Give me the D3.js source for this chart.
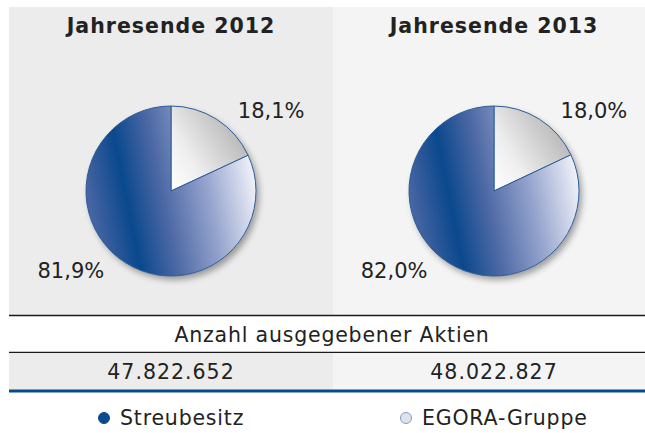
<!DOCTYPE html>
<html>
<head>
<meta charset="utf-8">
<script src="https://cdn.jsdelivr.net/npm/d3@7"></script>
<style>
  body { margin: 0; background: #fff; }
  text { font-family: "DejaVu Sans", Verdana, sans-serif; fill: #222; }
</style>
</head>
<body>
<svg id="chart" width="645" height="433"></svg>
<script>
// data
const years = ['Jahresende 2012', 'Jahresende 2013']
const streubesitz = [81.9, 82.0]
const egora = [18.1, 18.0]
const shareCounts = ['47.822.652', '48.022.827']
const legendLabels = ['Streubesitz', 'EGORA-Gruppe']
const tableTitle = 'Anzahl ausgegebener Aktien'

const width = 645
const left = 9, split = 333
const radius = 85

const svg = d3.select('#chart')
const defs = svg.append('defs')

// gradients for the slices
const blueGrad = defs.append('linearGradient')
    .attr('id', 'blueGrad')
    .attr('x1', 0).attr('y1', 0.6)
    .attr('x2', 1).attr('y2', 0.4)
blueGrad.selectAll('stop')
    .data([[0, '#4d68a5'], [0.24, '#0a488d'], [0.45, '#4d69a5'], [0.7, '#93a2cc'], [1, '#f3f4fb']])
    .join('stop')
    .attr('offset', d => d[0])
    .attr('stop-color', d => d[1])

const greyGrad = defs.append('linearGradient')
    .attr('id', 'greyGrad')
    .attr('x1', 0).attr('y1', 1)
    .attr('x2', 1).attr('y2', 0.3)
greyGrad.selectAll('stop')
    .data([[0, '#ffffff'], [0.35, '#eeeeee'], [1, '#b0b0b0']])
    .join('stop')
    .attr('offset', d => d[0])
    .attr('stop-color', d => d[1])

const shadow = defs.append('filter')
    .attr('id', 'shadow')
    .attr('x', '-20%').attr('y', '-20%')
    .attr('width', '150%').attr('height', '150%')
shadow.append('feDropShadow')
    .attr('dx', 3).attr('dy', 4)
    .attr('stdDeviation', 3)
    .attr('flood-color', '#000')
    .attr('flood-opacity', 0.35)

// the two year columns
const colLeft = [left, split]
const colRight = [split, width]
const colCenter = [171, 494]
const colFill = ['#ebeceb', '#f4f4f4']

// panel backgrounds
svg.selectAll('.panel')
    .data(years)
    .join('rect')
    .attr('class', 'panel')
    .attr('x', (d, i) => colLeft[i])
    .attr('y', 7)
    .attr('width', (d, i) => colRight[i] - colLeft[i])
    .attr('height', 308)
    .attr('fill', (d, i) => colFill[i])

// titles
svg.selectAll('.title')
    .data(years)
    .join('text')
    .attr('class', 'title')
    .attr('x', (d, i) => colCenter[i])
    .attr('y', 33)
    .attr('text-anchor', 'middle')
    .style('font-weight', 'bold')
    .style('font-size', '20.5px')
    .style('letter-spacing', '1px')
    .text(d => d)

const pie = d3.pie().sort(null).value(d => d.value)
const arc = d3.arc().innerRadius(0).outerRadius(radius)
const labelR = 128
const labelShift = 0.33 // labels sit a bit clockwise of the slice middle

years.forEach((year, i) => {
    const slices = [
        {key: 'EGORA-Gruppe', value: egora[i]},
        {key: 'Streubesitz', value: streubesitz[i]}
    ]
    const g = svg.append('g')
        .attr('transform', `translate(${colCenter[i]}, 191)`)

    g.append('circle')
        .attr('r', radius)
        .attr('fill', '#ddd')
        .attr('filter', 'url(#shadow)')

    g.selectAll('path')
        .data(pie(slices))
        .join('path')
        .attr('d', arc)
        .attr('fill', d => d.data.key === 'Streubesitz' ? 'url(#blueGrad)' : 'url(#greyGrad)')
        .attr('stroke', '#2d5c98')
        .attr('stroke-width', 1)

    g.selectAll('.pct')
        .data(pie(slices))
        .join('text')
        .attr('class', 'pct')
        .attr('x', d => labelR * Math.sin((d.startAngle + d.endAngle) / 2 + labelShift))
        .attr('y', d => -labelR * Math.cos((d.startAngle + d.endAngle) / 2 + labelShift) + 7)
        .attr('text-anchor', 'middle')
        .style('font-size', '21px')
        .text(d => d3.format('.1f')(d.data.value).replace('.', ',') + '%')
})

// table part under the pies
svg.append('line')
    .attr('x1', left).attr('x2', width)
    .attr('y1', 315.5).attr('y2', 315.5)
    .attr('stroke', '#1a1a1a').attr('stroke-width', 1.5)

svg.append('text')
    .attr('x', 332)
    .attr('y', 342)
    .attr('text-anchor', 'middle')
    .style('font-size', '20.5px')
    .style('letter-spacing', '0.8px')
    .text(tableTitle)

svg.append('line')
    .attr('x1', left).attr('x2', width)
    .attr('y1', 352.5).attr('y2', 352.5)
    .attr('stroke', '#1a1a1a').attr('stroke-width', 1.5)

svg.selectAll('.cell')
    .data(shareCounts)
    .join('rect')
    .attr('class', 'cell')
    .attr('x', (d, i) => colLeft[i])
    .attr('y', 353)
    .attr('width', (d, i) => colRight[i] - colLeft[i])
    .attr('height', 37)
    .attr('fill', (d, i) => colFill[i])

svg.selectAll('.count')
    .data(shareCounts)
    .join('text')
    .attr('class', 'count')
    .attr('x', (d, i) => colCenter[i])
    .attr('y', 379)
    .attr('text-anchor', 'middle')
    .style('font-size', '20.5px')
    .style('letter-spacing', '1px')
    .text(d => d)

svg.append('line')
    .attr('x1', left).attr('x2', width)
    .attr('y1', 391).attr('y2', 391)
    .attr('stroke', '#0a4a8c').attr('stroke-width', 3)

// legend
const legendX = [104, 406]
const legend = svg.selectAll('.legend')
    .data(legendLabels)
    .join('g')
    .attr('class', 'legend')
    .attr('transform', (d, i) => `translate(${legendX[i]}, 418)`)
legend.append('circle')
    .attr('r', 5.5)
    .attr('fill', (d, i) => i === 0 ? '#0b4a8e' : '#dfe4ec')
    .attr('stroke', (d, i) => i === 0 ? '#0b4a8e' : '#7f9cc6')
    .attr('stroke-width', 1)
legend.append('text')
    .attr('x', 16)
    .attr('y', 7)
    .style('font-size', '20.5px')
    .style('letter-spacing', '0.8px')
    .text(d => d)
</script>
</body>
</html>
